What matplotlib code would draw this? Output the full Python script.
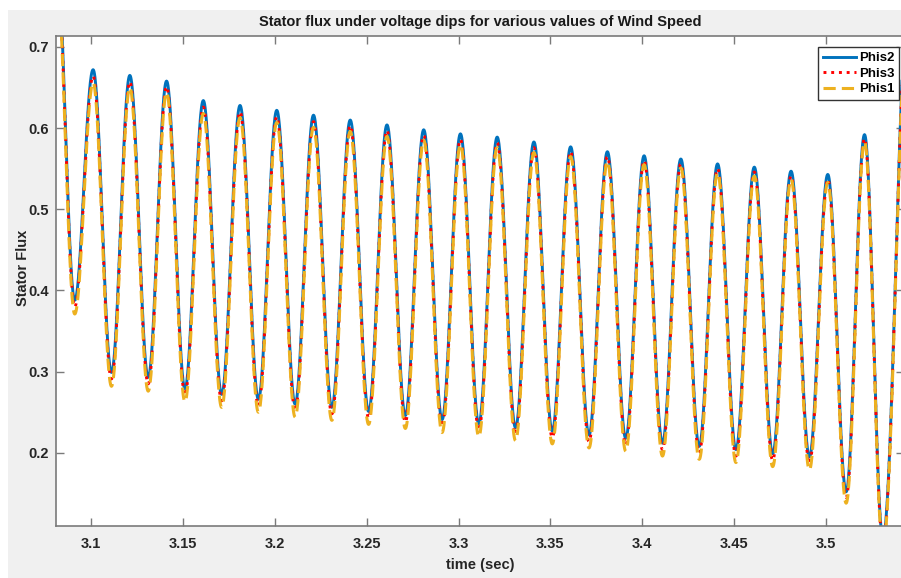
import numpy as np
import matplotlib
matplotlib.use("Agg")
import matplotlib.pyplot as plt
from matplotlib.patches import Rectangle

plt.rcParams['font.family'] = ['Liberation Sans', 'DejaVu Sans']
plt.rcParams['font.weight'] = 'bold'

# Extrema of the oscillation (alternating peak / trough)
extrema_t = [3.081,
             3.091, 3.101, 3.111, 3.121, 3.131, 3.141, 3.151, 3.161, 3.171, 3.181,
             3.191, 3.201, 3.211, 3.221, 3.231, 3.241, 3.251, 3.261, 3.271, 3.281,
             3.291, 3.301, 3.311, 3.321, 3.331, 3.341, 3.351, 3.361, 3.371, 3.381,
             3.391, 3.401, 3.411, 3.421, 3.431, 3.441, 3.451, 3.461, 3.471, 3.481,
             3.491, 3.501, 3.511, 3.521, 3.531, 3.545]

phis2_peaks = [0.81, 0.672, 0.665, 0.658, 0.634, 0.628, 0.622, 0.616, 0.610, 0.604, 0.598, 0.593,
               0.589, 0.583, 0.577, 0.571, 0.566, 0.562, 0.556, 0.552, 0.547, 0.543, 0.592, 0.76]
phis3_peaks = [0.80, 0.664, 0.657, 0.651, 0.626, 0.620, 0.614, 0.608, 0.603, 0.597, 0.591, 0.586,
               0.582, 0.576, 0.571, 0.565, 0.560, 0.556, 0.550, 0.546, 0.541, 0.537, 0.587, 0.755]
phis1_peaks = [0.79, 0.656, 0.650, 0.644, 0.618, 0.613, 0.607, 0.601, 0.596, 0.590, 0.585, 0.580,
               0.576, 0.570, 0.565, 0.559, 0.555, 0.551, 0.545, 0.541, 0.537, 0.533, 0.583, 0.75]

phis2_troughs = [0.388, 0.299, 0.293, 0.279, 0.272, 0.266, 0.260, 0.256, 0.251, 0.246, 0.241, 0.236,
                 0.231, 0.227, 0.222, 0.218, 0.212, 0.208, 0.204, 0.199, 0.195, 0.152, 0.095]
phis3_troughs = [0.380, 0.291, 0.285, 0.271, 0.264, 0.258, 0.252, 0.248, 0.243, 0.238, 0.233, 0.228,
                 0.223, 0.219, 0.214, 0.210, 0.204, 0.200, 0.196, 0.191, 0.187, 0.145, 0.090]
phis1_troughs = [0.371, 0.282, 0.276, 0.263, 0.256, 0.250, 0.244, 0.240, 0.235, 0.230, 0.225, 0.220,
                 0.215, 0.211, 0.206, 0.202, 0.196, 0.192, 0.188, 0.183, 0.179, 0.138, 0.085]

series_labels = ["Phis2", "Phis3", "Phis1"]
x_ticks = [3.1, 3.15, 3.2, 3.25, 3.3, 3.35, 3.4, 3.45, 3.5]
x_ticklabels = ["3.1", "3.15", "3.2", "3.25", "3.3", "3.35", "3.4", "3.45", "3.5"]
y_ticks = [0.2, 0.3, 0.4, 0.5, 0.6, 0.7]
y_ticklabels = ["0.2", "0.3", "0.4", "0.5", "0.6", "0.7"]


def extrema_values(peaks, troughs):
    vals = []
    for i in range(len(peaks)):
        vals.append(peaks[i])
        if i < len(troughs):
            vals.append(troughs[i])
    return np.array(vals)


def smooth_wave(t_ext, v_ext, n=40):
    ts, vs = [], []
    for i in range(len(t_ext) - 1):
        s = np.linspace(0, 1, n, endpoint=False)
        ts.append(t_ext[i] + (t_ext[i + 1] - t_ext[i]) * s)
        vs.append(v_ext[i] + (v_ext[i + 1] - v_ext[i]) * (1 - np.cos(np.pi * s)) / 2)
    ts.append([t_ext[-1]])
    vs.append([v_ext[-1]])
    return np.concatenate(ts), np.concatenate(vs)


fig = plt.figure(figsize=(9.01, 5.78), dpi=100)
fig.patch.set_facecolor('#F0F0F0')
# white screenshot margins (top and left)
fig.patches.append(Rectangle((0, 1 - 10 / 578), 1, 10 / 578, transform=fig.transFigure,
                             facecolor='white', edgecolor='none', zorder=-10))
fig.patches.append(Rectangle((0, 0), 8 / 901, 1, transform=fig.transFigure,
                             facecolor='white', edgecolor='none', zorder=-10))

ax = fig.add_axes([56 / 901, 52.5 / 578, 848 / 901, 489.5 / 578])
ax.set_facecolor('white')

te = np.array(extrema_t)
styles = [
    dict(color='#0072BD', linestyle='-', linewidth=2.1),
    dict(color='#FF0000', linestyle=':', linewidth=2.1),
    dict(color='#EDB120', linestyle='--', linewidth=2.2, dashes=(4, 2.0)),
]
data = [(phis2_peaks, phis2_troughs), (phis3_peaks, phis3_troughs), (phis1_peaks, phis1_troughs)]
for (pk, tr), lab, st in zip(data, series_labels, styles):
    t, v = smooth_wave(te, extrema_values(pk, tr))
    ax.plot(t, v, label=lab, **st)

ax.set_xlim(3.0808, 3.5425)
ax.set_ylim(0.1105, 0.7135)
ax.set_xticks(x_ticks)
ax.set_xticklabels(x_ticklabels)
ax.set_yticks(y_ticks)
ax.set_yticklabels(y_ticklabels)

spine_col = '#7a7a7a'
for s in ax.spines.values():
    s.set_color(spine_col)
    s.set_linewidth(1.2)
ax.tick_params(direction='in', length=6, width=1.0, color=spine_col, top=True, right=True,
               labelsize=10.5, labelcolor='#262626')
ax.tick_params(axis='x', pad=8.6)
ax.tick_params(axis='y', pad=5)
for lbl in ax.get_xticklabels() + ax.get_yticklabels():
    lbl.set_fontweight('bold')

ax.set_title("Stator flux under voltage dips for various values of Wind Speed",
             fontsize=10.5, fontweight='bold', color='#1a1a1a', pad=7)
ax.set_xlabel("time (sec)", fontsize=10.5, fontweight='bold', color='#262626', labelpad=5)
ax.set_ylabel("Stator Flux", fontsize=10.5, fontweight='bold', color='#262626')
ax.yaxis.set_label_coords(-0.0307, 0.526)

leg = ax.legend(loc='upper right', bbox_to_anchor=(0.997, 0.982), fontsize=9.5, frameon=True,
                fancybox=False, edgecolor='#333333', framealpha=1, handlelength=2.5,
                handletextpad=0.2, borderpad=0.35, labelspacing=0.25, borderaxespad=0.2)
leg.get_frame().set_linewidth(1.0)
for txt in leg.get_texts():
    txt.set_fontweight('bold')

fig.savefig("out.png", dpi=100, facecolor=fig.get_facecolor())
